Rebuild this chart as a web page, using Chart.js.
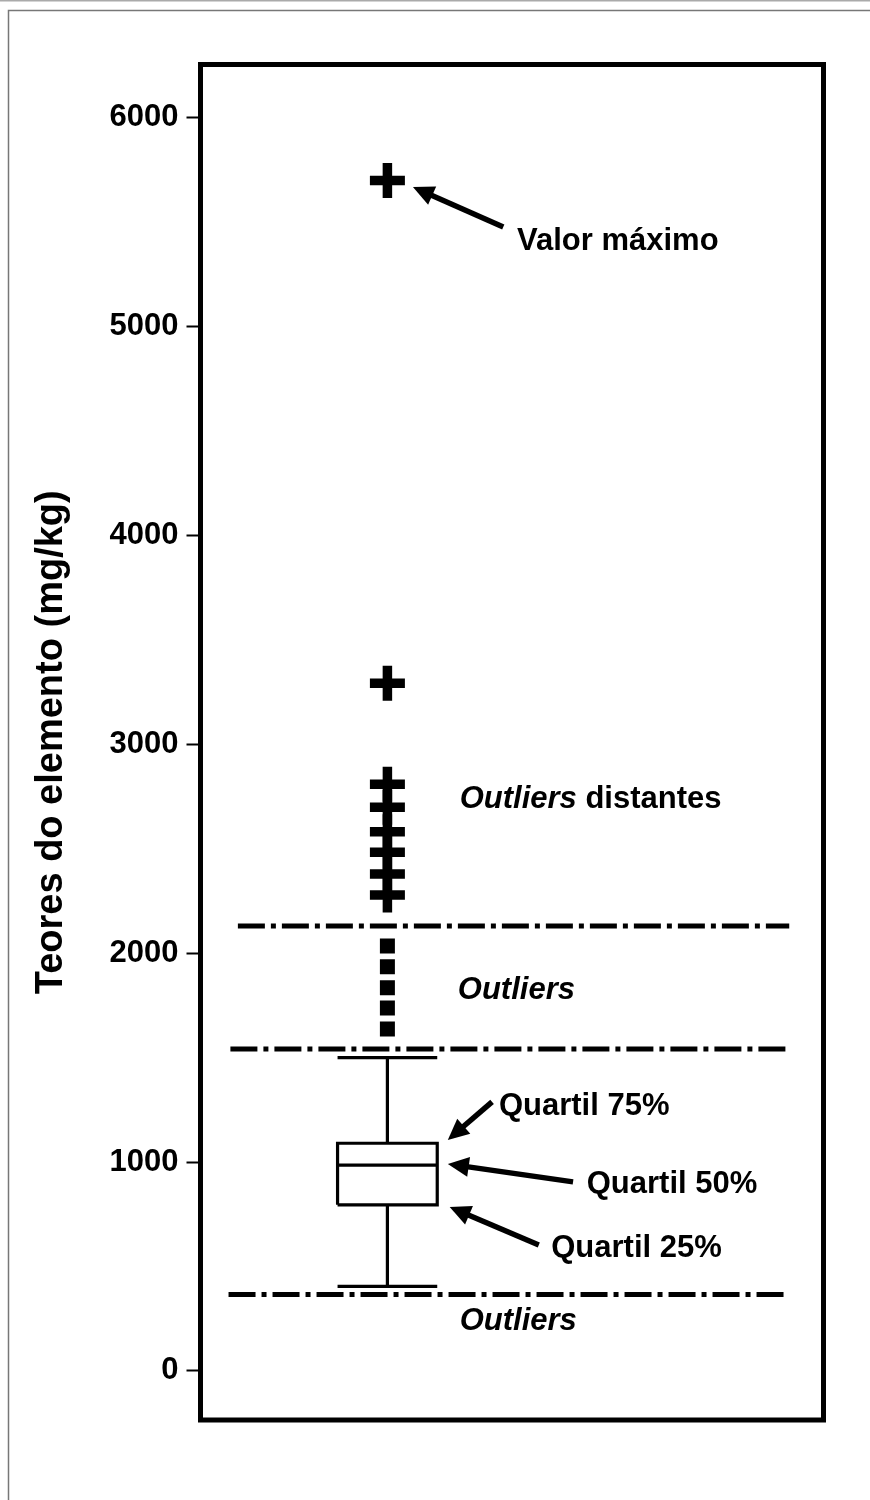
<!DOCTYPE html>
<html>
<head>
<meta charset="utf-8">
<script src="https://cdn.jsdelivr.net/npm/chart.js@4.4.1/dist/chart.umd.min.js"></script>
<style>
  html, body { margin: 0; padding: 0; background: #fff; }
  #wrap { position: relative; width: 870px; height: 1500px; }
</style>
</head>
<body>
<div id="wrap"><canvas id="chart"></canvas></div>
<script>
// values (mg/kg)
const yTicks = [0, 1000, 2000, 3000, 4000, 5000, 6000];
const quartileLabels = ['Quartil 25%', 'Quartil 50%', 'Quartil 75%'];
const quartileValues = [795, 985, 1090];
const whiskerValues = [405, 1500];
const outlierValues = [2035, 1935, 1835, 1738, 1637];
const distantOutlierValues = [5700, 3292, 2809, 2699, 2582, 2483, 2379, 2279];
const fenceValues = [2130, 1541, 366];

const FONT = "'Liberation Sans', Arial, Helvetica, sans-serif";
Chart.defaults.font.family = FONT;

// horizontal layout in x-units (0..100 across the plot frame)
const boxX = 30, boxHalf = 8;
const fenceSpans = [[6, 94.5], [4.8, 94], [4.5, 94.5]];

function seg(points) {
  return {
    type: 'line',
    data: points,
    borderColor: '#000',
    borderWidth: 3.2,
    pointRadius: 0,
    tension: 0,
    fill: false
  };
}

const [q1, med, q3] = quartileValues;
const [wLow, wHigh] = whiskerValues;

const datasets = [
  // box
  seg([{x: boxX - boxHalf, y: q1}, {x: boxX + boxHalf, y: q1}, {x: boxX + boxHalf, y: q3},
       {x: boxX - boxHalf, y: q3}, {x: boxX - boxHalf, y: q1}]),
  seg([{x: boxX - boxHalf, y: med}, {x: boxX + boxHalf, y: med}]),
  // whiskers
  seg([{x: boxX, y: q3}, {x: boxX, y: wHigh}]),
  seg([{x: boxX - boxHalf, y: wHigh}, {x: boxX + boxHalf, y: wHigh}]),
  seg([{x: boxX, y: q1}, {x: boxX, y: wLow}]),
  seg([{x: boxX - boxHalf, y: wLow}, {x: boxX + boxHalf, y: wLow}]),
];

// dash-dot fences
fenceValues.forEach((v, i) => {
  const d = seg([{x: fenceSpans[i][0], y: v}, {x: fenceSpans[i][1], y: v}]);
  d.borderWidth = 5;
  d.borderDash = [27, 6, 5, 6];
  datasets.push(d);
});

datasets.push({
  type: 'scatter',
  data: outlierValues.map(v => ({x: boxX, y: v})),
  pointStyle: 'rect',
  radius: 10.6,
  borderWidth: 0,
  backgroundColor: '#000'
});
datasets.push({
  type: 'scatter',
  data: distantOutlierValues.map(v => ({x: boxX, y: v})),
  pointStyle: 'cross',
  radius: 17.5,
  borderWidth: 9.5,
  borderColor: '#000'
});

// annotations: positions in x-units / y-values
const notes = [
  {parts: [['Valor máximo', false]], x: 50.8, y: 5367, arrow: [48.6, 5477, 34.1, 5668]},
  {parts: [['Outliers', true], [' distantes', false]], x: 41.6, y: 2695},
  {parts: [['Outliers', true]], x: 41.3, y: 1781},
  {parts: [[quartileLabels[2], false]], x: 47.9, y: 1225, arrow: [46.8, 1288, 39.7, 1106]},
  {parts: [[quartileLabels[1], false]], x: 62.0, y: 852, arrow: [59.8, 905, 39.7, 991]},
  {parts: [[quartileLabels[0], false]], x: 56.3, y: 545, arrow: [54.3, 603, 40.0, 785]},
  {parts: [['Outliers', true]], x: 41.6, y: 196}
];

function drawArrow(ctx, x1, y1, x2, y2) {
  const a = Math.atan2(y2 - y1, x2 - x1);
  const hl = 21, hw = 10;
  const bx = x2 - hl * Math.cos(a), by = y2 - hl * Math.sin(a);
  ctx.beginPath();
  ctx.moveTo(x1, y1);
  ctx.lineTo(bx + 2 * Math.cos(a), by + 2 * Math.sin(a));
  ctx.lineWidth = 5.5;
  ctx.stroke();
  ctx.beginPath();
  ctx.moveTo(x2, y2);
  ctx.lineTo(bx + hw * Math.sin(a), by - hw * Math.cos(a));
  ctx.lineTo(bx - hw * Math.sin(a), by + hw * Math.cos(a));
  ctx.closePath();
  ctx.fill();
}

const pageFrame = {
  id: 'pageFrame',
  beforeDraw(chart) {
    const ctx = chart.ctx;
    ctx.save();
    ctx.fillStyle = '#fff';
    ctx.fillRect(0, 0, chart.width, chart.height);
    ctx.strokeStyle = '#aaa';
    ctx.lineWidth = 1.5;
    ctx.beginPath(); ctx.moveTo(0, 0.75); ctx.lineTo(chart.width, 0.75); ctx.stroke();
    ctx.strokeStyle = '#777';
    ctx.beginPath();
    ctx.moveTo(8.5, chart.height); ctx.lineTo(8.5, 10.5); ctx.lineTo(chart.width, 10.5);
    ctx.stroke();
    ctx.restore();
  }
};

const plotFrame = {
  id: 'plotFrame',
  afterDraw(chart) {
    const {ctx, chartArea: a, scales} = chart;
    ctx.save();
    ctx.strokeStyle = '#000';
    ctx.lineWidth = 5;
    ctx.strokeRect(a.left, a.top, a.right - a.left, a.bottom - a.top);

    ctx.fillStyle = '#000';
    ctx.textBaseline = 'alphabetic';
    notes.forEach(n => {
      if (n.arrow) {
        const [tx, ty, hx, hy] = n.arrow;
        drawArrow(ctx, scales.x.getPixelForValue(tx), scales.y.getPixelForValue(ty),
                  scales.x.getPixelForValue(hx), scales.y.getPixelForValue(hy));
      }
      let px = scales.x.getPixelForValue(n.x);
      const py = scales.y.getPixelForValue(n.y);
      n.parts.forEach(([t, it]) => {
        ctx.font = (it ? 'italic ' : '') + 'bold 31px ' + FONT;
        ctx.fillText(t, px, py);
        px += ctx.measureText(t).width;
      });
    });
    ctx.restore();
  }
};

new Chart(document.getElementById('chart'), {
  type: 'scatter',
  data: {datasets},
  options: {
    responsive: true,
    maintainAspectRatio: false,
    animation: false,
    layout: {padding: {left: 0, right: 46.5, top: 64.5, bottom: 80}},
    plugins: {legend: {display: false}, tooltip: {enabled: false}},
    scales: {
      x: {type: 'linear', min: 0, max: 100, display: false},
      y: {
        type: 'linear',
        min: -235,
        max: 6255,
        afterBuildTicks: s => { s.ticks = yTicks.map(v => ({value: v})); },
        afterFit: s => { s.width = 200.5; },
        border: {display: false},
        grid: {drawOnChartArea: false, drawTicks: true, tickLength: 14, tickWidth: 2, tickColor: '#000'},
        ticks: {
          color: '#000',
          padding: 8,
          font: {size: 31, weight: 'bold'},
          callback: v => String(v)
        },
        title: {
          display: true,
          text: 'Teores do elemento (mg/kg)',
          color: '#000',
          font: {size: 38, weight: 'bold'},
          padding: {top: 29, bottom: 0}
        }
      }
    }
  },
  plugins: [pageFrame, plotFrame]
});
</script>
</body>
</html>
